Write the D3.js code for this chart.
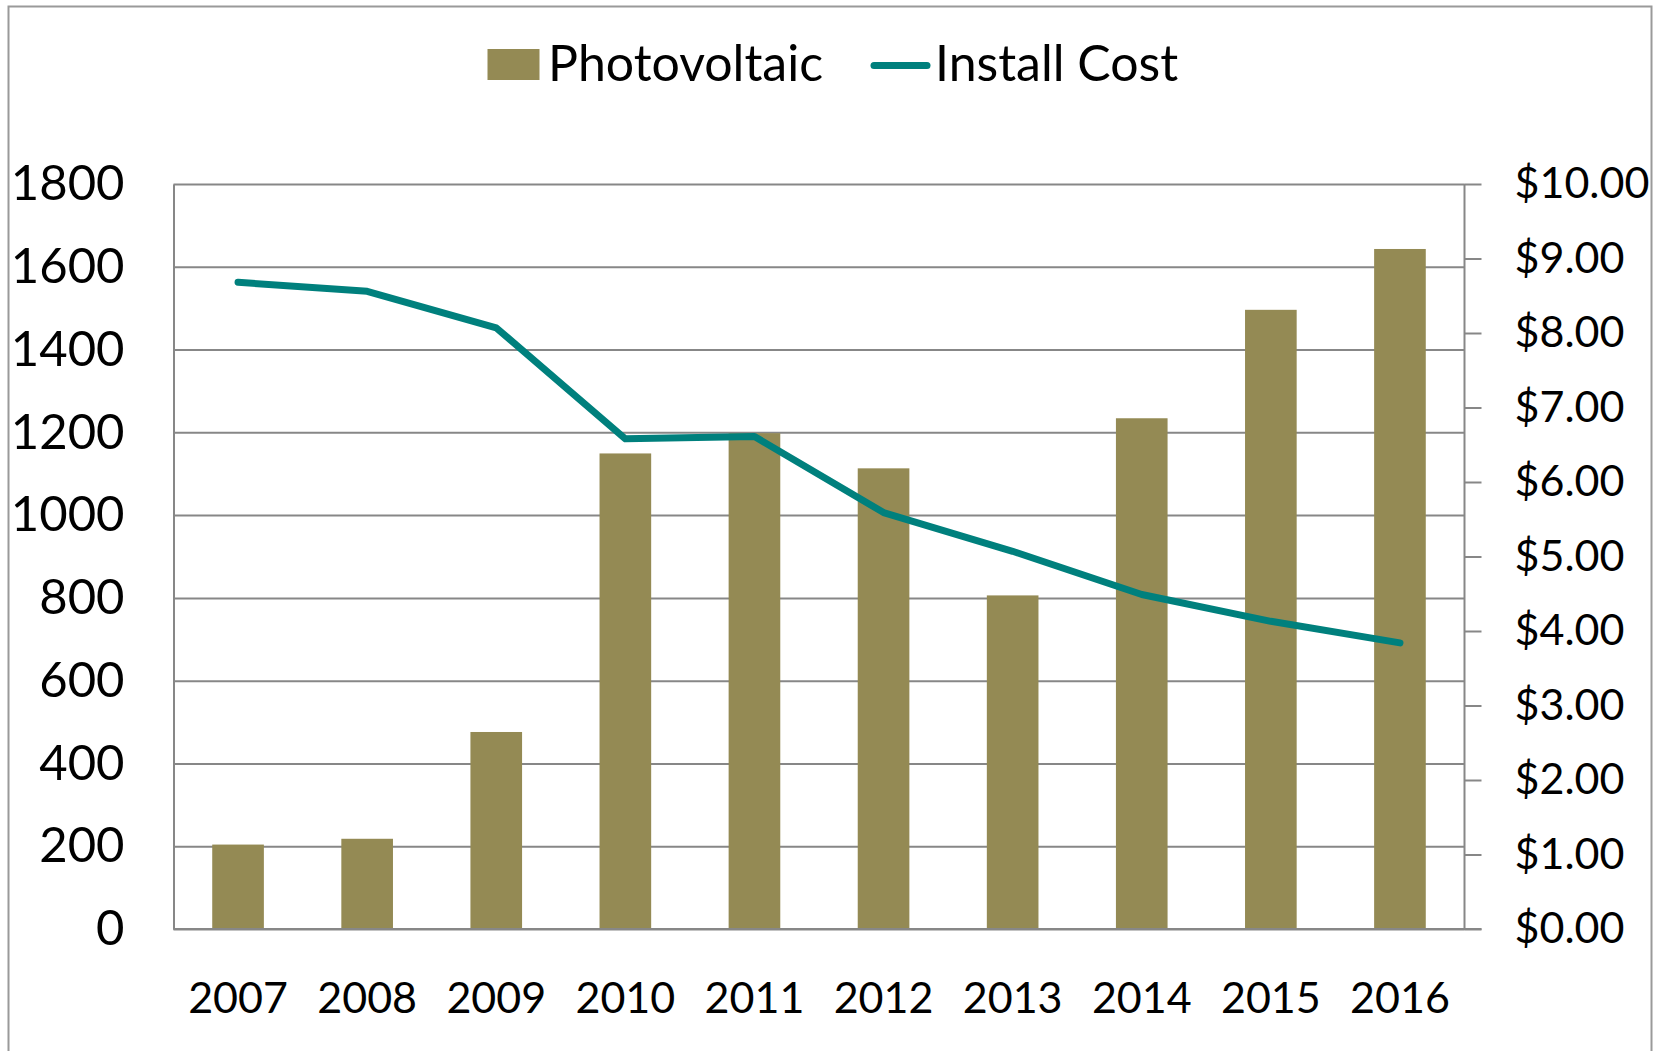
<!DOCTYPE html>
<html>
<head>
  <title>Photovoltaic vs Install Cost</title>
  <script src="https://d3js.org/d3.v7.min.js"></script>
  <style>
    body { margin: 0; background: #fff; }
    svg text { font-family: Lato, "Open Sans", sans-serif; fill: #000; }
    .grid line { stroke: #878787; stroke-width: 2; }
    .axis path, .axis line { stroke: #878787; stroke-width: 2; }
  </style>
</head>
<body>
  <div id="chart"></div>

  <script>
    // chart values
    const years = ["2007", "2008", "2009", "2010", "2011", "2012", "2013", "2014", "2015", "2016"];
    const photovoltaic = [204, 218, 476, 1149, 1198, 1113, 806, 1234, 1496, 1643];
    const installCost = [8.68, 8.56, 8.07, 6.58, 6.61, 5.59, 5.07, 4.49, 4.13, 3.84];
    const leftTicks = [0, 200, 400, 600, 800, 1000, 1200, 1400, 1600, 1800];
    const rightTicks = [0, 1, 2, 3, 4, 5, 6, 7, 8, 9, 10];

    const W = 1669, H = 1051;
    const margin = { top: 184, right: 204.5, bottom: 122, left: 173.5 };
    const width = W - margin.left - margin.right;
    const height = H - margin.top - margin.bottom;

    const svg = d3.select("#chart")
      .append("svg")
      .attr("width", W)
      .attr("height", H);

    // outer chart border (bottom edge runs off the picture)
    svg.append("rect")
      .attr("x", 8.5).attr("y", 6.5)
      .attr("width", 1643).attr("height", 1060)
      .attr("fill", "none")
      .attr("stroke", "#9a9a9a")
      .attr("stroke-width", 2);

    const g = svg.append("g")
      .attr("transform", "translate(" + margin.left + "," + margin.top + ")");

    const x = d3.scaleBand()
      .domain(years)
      .range([0, width])
      .paddingInner(0.6)
      .paddingOuter(0.3);

    const y = d3.scaleLinear().domain([0, 1800]).range([height, 0]);
    const yCost = d3.scaleLinear().domain([0, 10]).range([height, 0]);

    // horizontal gridlines
    g.append("g")
      .attr("class", "grid")
      .call(d3.axisLeft(y).tickValues(leftTicks).tickSize(-width).tickFormat(""))
      .call(s => s.select(".domain").remove());

    // bars
    g.selectAll(".bar")
      .data(photovoltaic)
      .enter()
      .append("rect")
      .attr("class", "bar")
      .attr("x", (d, i) => x(years[i]))
      .attr("y", d => y(d))
      .attr("width", x.bandwidth())
      .attr("height", d => height - y(d))
      .attr("fill", "#948a54");

    // left axis
    const leftAxis = g.append("g")
      .attr("class", "axis")
      .call(d3.axisLeft(y).tickValues(leftTicks).tickSize(0).tickPadding(49).tickFormat(d3.format("d")));
    leftAxis.selectAll("text").style("font-size", "49px");

    // right axis
    const rightAxis = g.append("g")
      .attr("class", "axis")
      .attr("transform", "translate(" + width + ",0)")
      .call(d3.axisRight(yCost).tickValues(rightTicks).tickSize(17).tickPadding(33)
        .tickFormat(d => "$" + d.toFixed(2)));
    rightAxis.select(".domain").attr("d", "M0," + height + "V0");
    rightAxis.selectAll("text").style("font-size", "43px");

    // bottom axis
    const bottomAxis = g.append("g")
      .attr("class", "axis")
      .attr("transform", "translate(0," + height + ")")
      .call(d3.axisBottom(x).tickSize(0).tickPadding(53));
    bottomAxis.select(".domain").attr("d", "M0,0H" + (width + 17));
    bottomAxis.selectAll("text").style("font-size", "43px");

    // install cost line
    const line = d3.line()
      .x((d, i) => x(years[i]) + x.bandwidth() / 2)
      .y(d => yCost(d));

    g.append("path")
      .datum(installCost)
      .attr("d", line)
      .attr("fill", "none")
      .attr("stroke", "#00807d")
      .attr("stroke-width", 7)
      .attr("stroke-linejoin", "round")
      .attr("stroke-linecap", "round");

    // legend
    const legend = svg.append("g");
    legend.append("rect")
      .attr("x", 487.5).attr("y", 49)
      .attr("width", 52).attr("height", 31)
      .attr("fill", "#948a54");
    legend.append("text")
      .attr("x", 548).attr("y", 81)
      .style("font-size", "50px")
      .text("Photovoltaic");
    legend.append("line")
      .attr("x1", 874).attr("x2", 927)
      .attr("y1", 65.5).attr("y2", 65.5)
      .attr("stroke", "#00807d")
      .attr("stroke-width", 7)
      .attr("stroke-linecap", "round");
    legend.append("text")
      .attr("x", 935).attr("y", 81)
      .style("font-size", "50px")
      .text("Install Cost");
  </script>
</body>
</html>
